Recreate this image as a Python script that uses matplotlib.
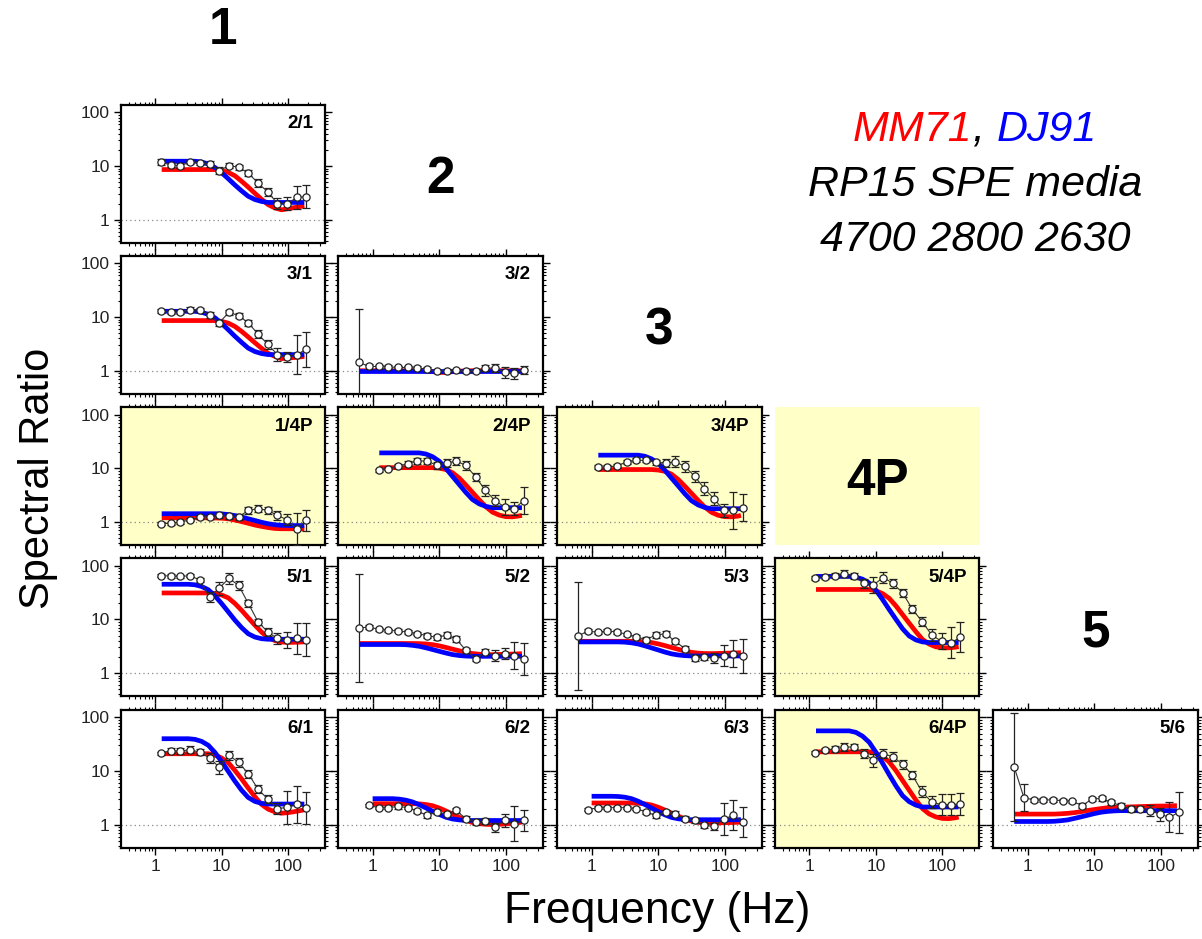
import matplotlib
matplotlib.use('Agg')
import matplotlib.pyplot as plt
import numpy as np
from matplotlib.ticker import FixedLocator, FixedFormatter, LogLocator, NullFormatter
from matplotlib.patches import Rectangle
from matplotlib.offsetbox import HPacker, TextArea, AnchoredOffsetbox

plt.rcParams['font.family'] = ['Liberation Sans', 'DejaVu Sans']

# ---------------- data ----------------
DATA_F = [0.63, 0.88, 1.23, 1.72, 2.4, 3.36, 4.7, 6.6, 9.2, 12.9, 18.0, 25.2, 35.3, 49.4, 69.0, 97.0, 135.0, 185.0]
CURVE_F = [0.63, 0.79, 1.0, 1.26, 1.58, 2.0, 2.51, 3.16, 3.98, 5.01, 6.31, 7.94, 10.0, 12.6, 15.8, 20.0,
           25.1, 31.6, 39.8, 50.1, 63.1, 79.4, 100.0, 126.0, 158.0, 175.0]
TICK_VALUES = [1, 10, 100]
TICK_LABELS = ['1', '10', '100']

# observed spectral ratios (circles) and log10 half-widths of error bars
P21 = [None, None, 11.8, 10.5, 10.2, 11.8, 11.5, 11.0, 8.2, 10.2, 9.5, 7.4, 4.8, 3.3, 2.0, 2.0, 2.6, 2.7]
E21 = [0, 0, 0.05, 0.04, 0.04, 0.04, 0.04, 0.05, 0.06, 0.05, 0.05, 0.06, 0.07, 0.08, 0.1, 0.12, 0.22, 0.22]
P31 = [None, None, 12.8, 12.3, 12.3, 13.8, 13.6, 10.9, 7.8, 12.3, 10.6, 7.8, 4.8, 3.1, 2.0, 1.8, 2.0, 2.5]
E31 = [0, 0, 0.04, 0.04, 0.04, 0.04, 0.04, 0.05, 0.06, 0.05, 0.05, 0.06, 0.07, 0.08, 0.12, 0.1, 0.36, 0.32]
P32 = [1.43, 1.2, 1.2, 1.18, 1.15, 1.15, 1.12, 1.08, 0.98, 1.0, 1.02, 0.98, 1.0, 1.12, 1.12, 0.93, 0.9, 1.03]
E32 = [1.0, 0.04, 0.03, 0.03, 0.03, 0.03, 0.03, 0.03, 0.03, 0.03, 0.03, 0.03, 0.04, 0.06, 0.08, 0.1, 0.1, 0.08]
P14P = [None, None, 0.93, 0.95, 1.0, 1.1, 1.24, 1.24, 1.33, 1.27, 1.24, 1.65, 1.77, 1.65, 1.33, 1.1, 0.75, 1.07]
E14P = [0, 0, 0.03, 0.03, 0.03, 0.03, 0.04, 0.04, 0.04, 0.04, 0.05, 0.07, 0.07, 0.07, 0.08, 0.1, 0.3, 0.2]
P24P = [None, None, 9.2, 9.9, 10.9, 12.3, 13.8, 13.6, 11.4, 12.6, 13.6, 11.4, 6.9, 3.9, 2.5, 1.9, 1.77, 2.5]
E24P = [0, 0, 0.03, 0.03, 0.04, 0.05, 0.05, 0.05, 0.06, 0.07, 0.08, 0.08, 0.08, 0.1, 0.1, 0.15, 0.12, 0.25]
P34P = [None, None, 10.6, 10.6, 11.1, 13.2, 14.1, 14.1, 13.0, 12.6, 13.2, 10.9, 7.1, 4.2, 2.7, 1.65, 1.65, 1.85]
E34P = [0, 0, 0.03, 0.03, 0.03, 0.04, 0.04, 0.04, 0.05, 0.08, 0.1, 0.1, 0.1, 0.12, 0.12, 0.12, 0.35, 0.25]
P51 = [None, None, 65, 64, 63, 65, 54, 26, 38, 58, 43, 19.8, 9.0, 5.8, 4.4, 4.1, 4.4, 4.2]
E51 = [0, 0, 0.03, 0.03, 0.03, 0.03, 0.04, 0.1, 0.12, 0.1, 0.08, 0.06, 0.06, 0.08, 0.1, 0.15, 0.28, 0.3]
P52 = [6.9, 7.2, 6.55, 6.2, 6.1, 5.8, 5.4, 5.0, 4.6, 5.1, 4.3, 2.65, 1.85, 2.5, 2.1, 2.3, 2.1, 1.85]
E52 = [1.0, 0.04, 0.03, 0.03, 0.03, 0.03, 0.03, 0.04, 0.05, 0.06, 0.06, 0.05, 0.05, 0.05, 0.1, 0.1, 0.25, 0.3]
P53 = [4.9, 6.1, 5.7, 6.1, 5.8, 5.3, 4.7, 4.2, 5.1, 5.4, 3.9, 2.85, 1.9, 2.0, 1.9, 2.1, 2.3, 2.1]
E53 = [1.0, 0.04, 0.03, 0.03, 0.03, 0.03, 0.03, 0.04, 0.05, 0.05, 0.05, 0.05, 0.05, 0.05, 0.1, 0.2, 0.25, 0.32]
P54P = [None, None, 59, 61, 65, 71, 64, 47, 44, 60, 47, 31, 15.5, 9.1, 5.1, 3.9, 3.7, 4.6]
E54P = [0, 0, 0.03, 0.04, 0.05, 0.07, 0.06, 0.08, 0.15, 0.1, 0.08, 0.08, 0.08, 0.08, 0.12, 0.15, 0.28, 0.28]
P61 = [None, None, 21.5, 24, 23.5, 25, 22.5, 17.5, 11.8, 19.5, 14.6, 8.9, 4.6, 3.0, 2.0, 2.1, 2.4, 2.05]
E61 = [0, 0, 0.03, 0.04, 0.05, 0.07, 0.06, 0.1, 0.12, 0.08, 0.08, 0.07, 0.07, 0.08, 0.1, 0.3, 0.35, 0.3]
P62 = [None, 2.3, 2.08, 2.08, 2.2, 2.08, 1.8, 1.49, 1.72, 1.6, 1.85, 1.29, 1.12, 1.17, 0.9, 1.2, 1.05, 1.2]
E62 = [0, 0.03, 0.03, 0.03, 0.04, 0.03, 0.04, 0.04, 0.04, 0.04, 0.05, 0.05, 0.05, 0.05, 0.08, 0.12, 0.33, 0.2]
P63 = [None, 1.9, 2.08, 2.08, 2.08, 2.08, 2.0, 1.72, 1.49, 1.72, 1.6, 1.29, 1.2, 0.97, 0.93, 1.29, 1.49, 1.12]
E63 = [0, 0.03, 0.03, 0.03, 0.03, 0.03, 0.03, 0.04, 0.04, 0.04, 0.05, 0.05, 0.05, 0.05, 0.06, 0.3, 0.28, 0.28]
P64P = [None, None, 22, 24.5, 26, 28, 28, 21, 16, 21, 18.5, 13.4, 8.4, 4.1, 2.65, 2.36, 2.36, 2.45]
E64P = [0, 0, 0.03, 0.04, 0.06, 0.07, 0.06, 0.08, 0.12, 0.08, 0.08, 0.08, 0.08, 0.1, 0.12, 0.2, 0.2, 0.2]
P56 = [11.8, 3.2, 2.9, 2.9, 2.9, 2.8, 2.73, 2.27, 3.0, 3.1, 2.6, 2.27, 1.96, 1.96, 1.83, 1.58, 1.37, 1.7]
E56 = [1.0, 0.25, 0.03, 0.03, 0.03, 0.03, 0.03, 0.04, 0.04, 0.04, 0.04, 0.04, 0.05, 0.05, 0.1, 0.12, 0.28, 0.38]

# model curves (MM71 red, DJ91 blue) read at CURVE_F
R21 = [None, None, None, 8.6, 8.6, 8.6, 8.6, 8.6, 8.6, 8.6, 8.6, 8.6, 8.3, 7.6, 6.6, 5.2, 4.06, 3.11, 2.41, 1.91, 1.66, 1.53, 1.61, 1.69, 1.78, 1.82]
B21 = [None, None, None, 12.3, 12.3, 12.3, 12.3, 12.3, 12.3, 11.9, 10.9, 9.4, 7.5, 5.8, 4.45, 3.44, 2.74, 2.38, 2.19, 2.1, 2.1, 2.1, 2.1, 2.1, 2.1, 2.1]
R31 = [None, None, None, 8.6, 8.6, 8.6, 8.6, 8.6, 8.6, 8.6, 8.6, 8.6, 8.3, 7.7, 6.7, 5.4, 4.26, 3.33, 2.62, 2.11, 1.85, 1.68, 1.72, 1.77, 1.82, 1.85]
B31 = [None, None, None, 12.8, 12.8, 12.8, 12.8, 12.8, 12.8, 12.3, 11.2, 9.7, 7.6, 5.8, 4.4, 3.37, 2.64, 2.28, 2.09, 2.0, 2.0, 2.0, 2.0, 2.0, 2.0, 2.0]
R32 = [1.0, 1.0, 1.0, 1.0, 1.0, 1.0, 1.0, 1.0, 1.0, 1.0, 1.0, 0.97, 0.93, 0.93, 0.96, 0.98, 1.0, 1.0, 1.0, 1.0, 1.0, 1.0, 1.0, 1.0, 1.0, 1.0]
B32 = [0.98, 0.98, 0.98, 0.98, 0.98, 0.98, 0.98, 0.98, 0.98, 0.98, 0.98, 0.98, 0.98, 0.98, 0.98, 0.98, 0.98, 0.98, 0.98, 0.98, 0.98, 0.98, 0.98, 0.98, 0.98, 0.98]
R14P = [None, None, None, 1.2, 1.2, 1.2, 1.2, 1.2, 1.2, 1.2, 1.2, 1.19, 1.18, 1.15, 1.09, 1.02, 0.95, 0.88, 0.83, 0.79, 0.76, 0.75, 0.75, 0.75, 0.75, 0.75]
B14P = [None, None, None, 1.43, 1.43, 1.43, 1.43, 1.43, 1.43, 1.43, 1.43, 1.43, 1.42, 1.38, 1.32, 1.24, 1.15, 1.07, 0.99, 0.93, 0.89, 0.87, 0.86, 0.86, 0.86, 0.86]
R24P = [None, None, None, 10.3, 10.3, 10.3, 10.3, 10.3, 10.3, 10.3, 10.3, 10.3, 10.1, 9.5, 8.3, 6.6, 4.9, 3.57, 2.6, 1.93, 1.53, 1.35, 1.26, 1.25, 1.3, 1.33]
B24P = [None, None, None, 19.4, 19.4, 19.4, 19.4, 19.4, 19.4, 19.4, 18.5, 16.5, 13.6, 10.0, 7.1, 5.0, 3.57, 2.63, 2.18, 1.96, 1.85, 1.85, 1.85, 1.85, 1.85, 1.85]
R34P = [None, None, None, 9.5, 9.5, 9.5, 9.5, 9.5, 9.5, 9.5, 9.5, 9.5, 9.3, 8.8, 7.8, 6.2, 4.66, 3.43, 2.53, 1.9, 1.52, 1.34, 1.26, 1.25, 1.29, 1.33]
B34P = [None, None, None, 17.6, 17.6, 17.6, 17.6, 17.6, 17.6, 17.6, 16.8, 15.0, 12.4, 9.2, 6.6, 4.7, 3.37, 2.5, 2.08, 1.87, 1.77, 1.77, 1.77, 1.77, 1.77, 1.77]
R51 = [None, None, None, 31, 31, 31, 31, 31, 31, 31, 31, 30.3, 28.4, 25.1, 19.8, 14.7, 10.7, 7.8, 5.8, 4.57, 4.03, 3.78, 3.72, 3.74, 3.78, 3.8]
B51 = [None, None, None, 45, 45, 45, 45, 45, 44, 40.9, 35.6, 27.4, 19.7, 13.8, 9.7, 7.0, 5.4, 4.68, 4.36, 4.26, 4.26, 4.26, 4.26, 4.26, 4.26, 4.26]
R52 = [3.55, 3.55, 3.55, 3.55, 3.55, 3.55, 3.55, 3.55, 3.55, 3.53, 3.48, 3.38, 3.21, 3.0, 2.79, 2.6, 2.43, 2.31, 2.24, 2.21, 2.2, 2.22, 2.24, 2.26, 2.28, 2.3]
B52 = [3.4, 3.4, 3.4, 3.4, 3.4, 3.4, 3.4, 3.37, 3.28, 3.15, 2.95, 2.74, 2.54, 2.36, 2.21, 2.12, 2.07, 2.05, 2.05, 2.05, 2.05, 2.05, 2.05, 2.05, 2.05, 2.05]
R53 = [3.9, 3.9, 3.9, 3.9, 3.9, 3.9, 3.9, 3.9, 3.9, 3.88, 3.82, 3.7, 3.49, 3.24, 3.0, 2.77, 2.57, 2.43, 2.35, 2.31, 2.3, 2.32, 2.34, 2.36, 2.38, 2.4]
B53 = [3.8, 3.8, 3.8, 3.8, 3.8, 3.8, 3.8, 3.76, 3.65, 3.47, 3.21, 2.94, 2.69, 2.46, 2.28, 2.17, 2.11, 2.08, 2.08, 2.08, 2.08, 2.08, 2.08, 2.08, 2.08, 2.08]
R54P = [None, None, None, 36, 36, 36, 36, 36, 36, 36, 36, 36, 34.2, 30.1, 24.7, 17.8, 12.3, 8.5, 5.9, 4.23, 3.46, 3.08, 2.95, 2.95, 3.03, 3.1]
B54P = [None, None, None, 63, 63, 63, 63, 63, 63, 61, 56, 47.5, 34.8, 23.4, 15.3, 10.0, 6.7, 4.91, 4.14, 3.8, 3.7, 3.7, 3.7, 3.7, 3.7, 3.7]
R61 = [None, None, None, 21, 21, 21, 21, 21, 21, 21, 21, 19.9, 17.5, 14.3, 10.3, 7.1, 4.83, 3.33, 2.39, 1.95, 1.74, 1.64, 1.68, 1.76, 1.85, 1.9]
B61 = [None, None, None, 40, 40, 40, 40, 40, 38.9, 35.7, 30.2, 22.2, 15.0, 9.86, 6.5, 4.38, 3.22, 2.72, 2.5, 2.43, 2.43, 2.43, 2.43, 2.43, 2.43, 2.43]
R62 = [None, None, 2.47, 2.47, 2.47, 2.47, 2.47, 2.47, 2.47, 2.45, 2.38, 2.26, 2.05, 1.81, 1.58, 1.38, 1.22, 1.1, 1.05, 1.02, 1.01, 1.02, 1.04, 1.07, 1.1, 1.12]
B62 = [None, None, 3.06, 3.06, 3.06, 3.06, 3.0, 2.87, 2.66, 2.36, 2.06, 1.79, 1.56, 1.38, 1.28, 1.23, 1.2, 1.2, 1.2, 1.2, 1.2, 1.2, 1.2, 1.2, 1.2, 1.2]
R63 = [None, None, 2.54, 2.54, 2.54, 2.54, 2.54, 2.54, 2.54, 2.52, 2.45, 2.33, 2.12, 1.88, 1.65, 1.45, 1.28, 1.17, 1.11, 1.08, 1.07, 1.08, 1.09, 1.1, 1.11, 1.12]
B63 = [None, None, 3.39, 3.39, 3.39, 3.39, 3.36, 3.26, 3.06, 2.74, 2.38, 2.05, 1.76, 1.53, 1.37, 1.29, 1.25, 1.24, 1.24, 1.24, 1.24, 1.24, 1.24, 1.24, 1.24, 1.24]
R64P = [None, None, None, 22.8, 22.8, 22.8, 22.8, 22.8, 22.8, 22.8, 22.8, 22.8, 21.5, 18.7, 14.8, 10.2, 6.7, 4.4, 2.9, 2.0, 1.59, 1.4, 1.31, 1.3, 1.35, 1.39]
B64P = [None, None, None, 56, 56, 56, 56, 56, 56, 52.5, 44.6, 34.3, 22.4, 14.0, 8.6, 5.3, 3.49, 2.69, 2.32, 2.14, 2.14, 2.14, 2.14, 2.14, 2.14, 2.14]
R56 = [1.58, 1.58, 1.58, 1.58, 1.58, 1.58, 1.58, 1.6, 1.63, 1.68, 1.75, 1.84, 1.92, 2.0, 2.07, 2.1, 2.12, 2.14, 2.16, 2.18, 2.2, 2.22, 2.23, 2.24, 2.26, 2.27]
B56 = [1.15, 1.15, 1.15, 1.15, 1.15, 1.15, 1.16, 1.19, 1.23, 1.31, 1.4, 1.5, 1.61, 1.71, 1.77, 1.81, 1.83, 1.83, 1.83, 1.83, 1.83, 1.83, 1.83, 1.83, 1.83, 1.83]

# station labels on the diagonal
STATIONS = ['1', '2', '3', '4P', '5']

# ---------------- layout ----------------
W, H = 1202, 939
fig = plt.figure(figsize=(W / 100, H / 100), dpi=100)
COL_X = [120.7, 338.3, 557.3, 775.0, 993.3]
ROW_Y = [105.0, 256.0, 407.3, 558.3, 710.0]
ROW_PITCH = 151.3
PW, PH = 204.5, 137.5
YELLOW = '#FFFFC8'


def rect(col, row):
    return [COL_X[col] / W, 1 - (ROW_Y[row] + PH) / H, PW / W, PH / H]


panels = [
    (0, 0, '2/1', P21, E21, R21, B21, False),
    (1, 0, '3/1', P31, E31, R31, B31, False),
    (1, 1, '3/2', P32, E32, R32, B32, False),
    (2, 0, '1/4P', P14P, E14P, R14P, B14P, True),
    (2, 1, '2/4P', P24P, E24P, R24P, B24P, True),
    (2, 2, '3/4P', P34P, E34P, R34P, B34P, True),
    (3, 0, '5/1', P51, E51, R51, B51, False),
    (3, 1, '5/2', P52, E52, R52, B52, False),
    (3, 2, '5/3', P53, E53, R53, B53, False),
    (3, 3, '5/4P', P54P, E54P, R54P, B54P, True),
    (4, 0, '6/1', P61, E61, R61, B61, False),
    (4, 1, '6/2', P62, E62, R62, B62, False),
    (4, 2, '6/3', P63, E63, R63, B63, False),
    (4, 3, '6/4P', P64P, E64P, R64P, B64P, True),
    (4, 4, '5/6', P56, E56, R56, B56, False),
]


def arr(v):
    return np.array([np.nan if x is None else x for x in v], dtype=float)


for row, col, lab, P, E, R, B, yel in panels:
    ax = fig.add_axes(rect(col, row))
    ax.set_xscale('log')
    ax.set_yscale('log')
    if yel:
        ax.set_facecolor(YELLOW)
    cf = np.array(CURVE_F)
    ax.plot(cf, arr(R), color='#FF0000', lw=3.4, solid_capstyle='butt', zorder=2)
    ax.plot(cf, arr(B), color='#0000FF', lw=3.4, solid_capstyle='butt', zorder=3)
    df = np.array(DATA_F)
    p = arr(P)
    e = np.array(E, dtype=float)
    m = ~np.isnan(p)
    lo = p[m] - p[m] / 10 ** e[m]
    hi = p[m] * 10 ** e[m] - p[m]
    ax.errorbar(df[m], p[m], yerr=[lo, hi], fmt='none', ecolor='#222222', elinewidth=0.9,
                capsize=2.8, capthick=0.9, zorder=4)
    ax.plot(df[m], p[m], '-', color='#333333', lw=0.8, zorder=5)
    ax.plot(df[m], p[m], 'o', ms=5.2, mfc='white', mec='#222222', mew=0.9, zorder=6)
    ax.axhline(1, color='#888888', ls=(0, (1, 2.5)), lw=0.9, zorder=1)
    ax.set_xlim(0.305, 360)
    ax.set_ylim(0.377, 137)
    for axis in (ax.xaxis, ax.yaxis):
        axis.set_major_locator(FixedLocator(TICK_VALUES))
        axis.set_major_formatter(FixedFormatter(TICK_LABELS))
        axis.set_minor_locator(LogLocator(base=10, subs=np.arange(2, 10) * 1.0, numticks=20))
        axis.set_minor_formatter(NullFormatter())
    ax.tick_params(which='major', direction='out', length=5, width=1.0, top=True, right=True,
                   labelsize=12.5, pad=3, labelleft=(col == 0), labelbottom=(row == 4),
                   labelcolor='#222222')
    ax.tick_params(which='minor', direction='out', length=2.5, width=0.8, top=True, right=True)
    for s in ax.spines.values():
        s.set_linewidth(1.6)
    ax.text(0.94, 0.925, lab, transform=ax.transAxes, ha='right', va='top',
            fontsize=13.5, fontweight='bold')

# yellow label box for 4P
box = rect(3, 2)
fig.patches.append(Rectangle((box[0], box[1]), box[2], box[3], transform=fig.transFigure,
                             facecolor=YELLOW, edgecolor='none', zorder=0))

# station labels on the diagonal
for k, name in enumerate(STATIONS):
    cx = COL_X[k] + PW / 2
    cy = ROW_Y[k] - ROW_PITCH + PH / 2 + 6 if k > 0 else 30
    fig.text(cx / W, 1 - cy / H, name, ha='center', va='center', fontsize=37, fontweight='bold')

# legend text
t1x, t1y = 975 / W, 1 - 130 / H
parts = [TextArea('MM71', textprops=dict(color='#FF0000', fontsize=31, style='italic')),
         TextArea(', ', textprops=dict(color='black', fontsize=31, style='italic')),
         TextArea('DJ91', textprops=dict(color='#0000FF', fontsize=31, style='italic'))]
pack = HPacker(children=parts, align='baseline', pad=0, sep=0)
anch = AnchoredOffsetbox(loc='center', child=pack, bbox_to_anchor=(t1x, t1y),
                         bbox_transform=fig.transFigure, frameon=False, pad=0, borderpad=0)
fig.add_artist(anch)
fig.text(975 / W, 1 - 185 / H, 'RP15 SPE media', ha='center', va='center', fontsize=31, style='italic')
fig.text(975 / W, 1 - 240 / H, '4700 2800 2630', ha='center', va='center', fontsize=31, style='italic')

# axis titles
fig.text(38 / W, 1 - 478 / H, 'Spectral Ratio', rotation=90, ha='center', va='center', fontsize=30)
fig.text(657 / W, 1 - 912 / H, 'Frequency (Hz)', ha='center', va='center', fontsize=32)

fig.savefig('out.png', dpi=100)
